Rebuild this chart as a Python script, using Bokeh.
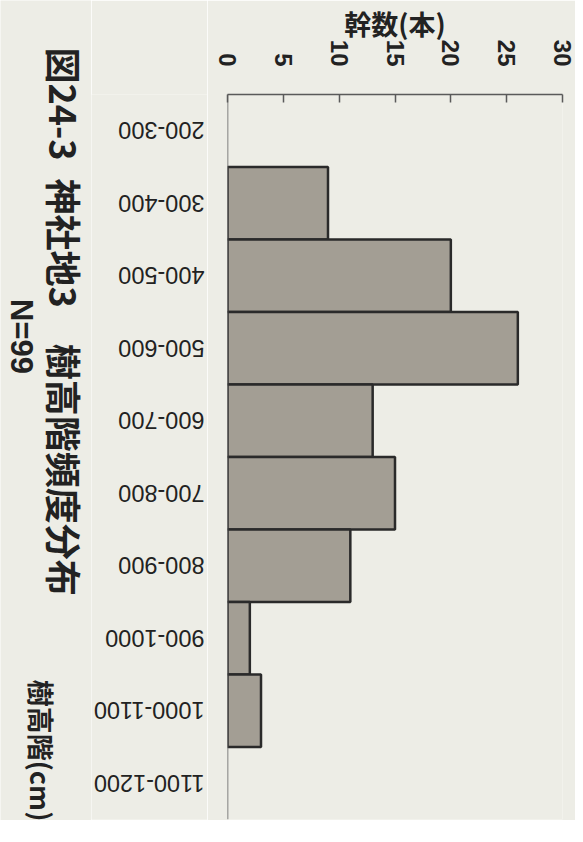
import math
from bokeh.plotting import figure
from bokeh.layouts import row, column
from bokeh.models import (ColumnDataSource, Range1d, FixedTicker, Label, Span,
                          FactorRange)
from bokeh.core.properties import value
from bokeh.embed import file_html
from bokeh.resources import INLINE

categories = ["200-300", "300-400", "400-500", "500-600", "600-700",
              "700-800", "800-900", "900-1000", "1000-1100", "1100-1200"]
counts = [0, 9, 20, 26, 13, 15, 11, 2, 3, 0]
x_ticks = [0, 5, 10, 15, 20, 25, 30]
title_text = "図24-3\u2002神社地3\u3000樹高階頻度分布"
n_text = "N=99"
y_label = "幹数(本)"
x_label = "樹高階(cm)"

PAPER = "#edede6"
BAR = "#a39e94"
EDGE = "#2a2a2a"
AXIS = "#5a5a5a"
TXT = "#222222"

TOP, BOTTOM = 89, 1
H = 820
A_RIGHT = 91      # x where the title column ends
C_LEFT = 207      # x where the bar figure begins
FRAME_LEFT = 227
TOTAL_W = 575

shared_y = FactorRange(factors=categories[::-1])

src = ColumnDataSource(dict(
    cat=[c for c, v in zip(categories, counts) if v > 0],
    count=[v for v in counts if v > 0],
))
lab_src = ColumnDataSource(dict(cat=categories))


def blank(fig):
    fig.background_fill_color = PAPER
    fig.border_fill_color = PAPER
    fig.outline_line_color = None
    fig.grid.visible = False


# ---- A: title column (pixel coordinates) ----
fa = figure(width=A_RIGHT, height=H, x_range=Range1d(0, A_RIGHT),
            y_range=Range1d(8 + H, 8),
            x_axis_location=None, y_axis_location=None,
            output_backend="svg", toolbar_location=None,
            min_border=0)
blank(fa)
fa.add_layout(Label(x=64, y=55, text=title_text, angle=-math.pi / 2,
                    text_align="left", text_baseline="middle",
                    text_font="Noto Sans CJK JP", text_font_size="36px",
                    text_font_style="bold", text_color=TXT))
fa.add_layout(Label(x=21, y=344, text=n_text, angle=-math.pi / 2,
                    text_align="center", text_baseline="middle",
                    text_font="Liberation Sans", text_font_size="31px",
                    text_font_style="bold", text_color=TXT))
fa.add_layout(Label(x=41, y=758, text=x_label, angle=-math.pi / 2,
                    text_align="center", text_baseline="middle",
                    text_font="Noto Sans CJK JP", text_font_size="27px",
                    text_font_style="bold", text_color=TXT))

# ---- B: category labels, sharing the category scale ----
fb = figure(width=C_LEFT - A_RIGHT, height=H, x_range=Range1d(A_RIGHT, C_LEFT),
            y_range=shared_y,
            x_axis_location=None, y_axis_location=None,
            output_backend="svg", toolbar_location=None,
            min_border_left=0, min_border_right=0,
            min_border_top=TOP, min_border_bottom=BOTTOM)
blank(fb)
fb.text(x=204, y="cat", text="cat", source=lab_src, angle=math.pi,
        text_align="left", text_baseline="middle",
        text_font=value("Liberation Sans"), text_font_size="23.5px",
        text_color=TXT)

# ---- C: the bars ----
p = figure(width=TOTAL_W - C_LEFT, height=H, y_range=shared_y, x_range=Range1d(0, 30),
           x_axis_location="above", y_axis_location=None,
           output_backend="svg", toolbar_location=None,
           min_border_left=FRAME_LEFT - C_LEFT, min_border_top=TOP,
           min_border_right=13, min_border_bottom=BOTTOM)
blank(p)

p.hbar(y="cat", left=0, right="count", height=1.0, source=src,
       fill_color=BAR, line_color=EDGE, line_width=2.5)
p.add_layout(Span(location=0, dimension="height", line_color=AXIS, line_width=1.5))

xa = p.xaxis[0]
xa.ticker = FixedTicker(ticks=x_ticks)
xa.major_tick_in = 8
xa.major_tick_out = 0
xa.minor_tick_out = 0
xa.minor_tick_in = 0
xa.minor_tick_line_color = None
xa.axis_line_color = AXIS
xa.axis_line_width = 1.5
xa.major_tick_line_color = AXIS
xa.major_tick_line_width = 1.5
xa.major_label_orientation = -math.pi / 2
xa.major_label_text_font = "Liberation Sans"
xa.major_label_text_font_size = "24px"
xa.major_label_text_font_style = "bold"
xa.major_label_text_color = TXT
xa.major_label_standoff = 28
xa.axis_label = y_label
xa.axis_label_text_font = "Noto Sans CJK JP"
xa.axis_label_text_font_size = "27px"
xa.axis_label_text_font_style = "bold"
xa.axis_label_text_color = TXT
xa.axis_label_standoff = -6

layout = row(column(fa), fb, p)
open("out.html", "w").write(file_html(layout, INLINE))
